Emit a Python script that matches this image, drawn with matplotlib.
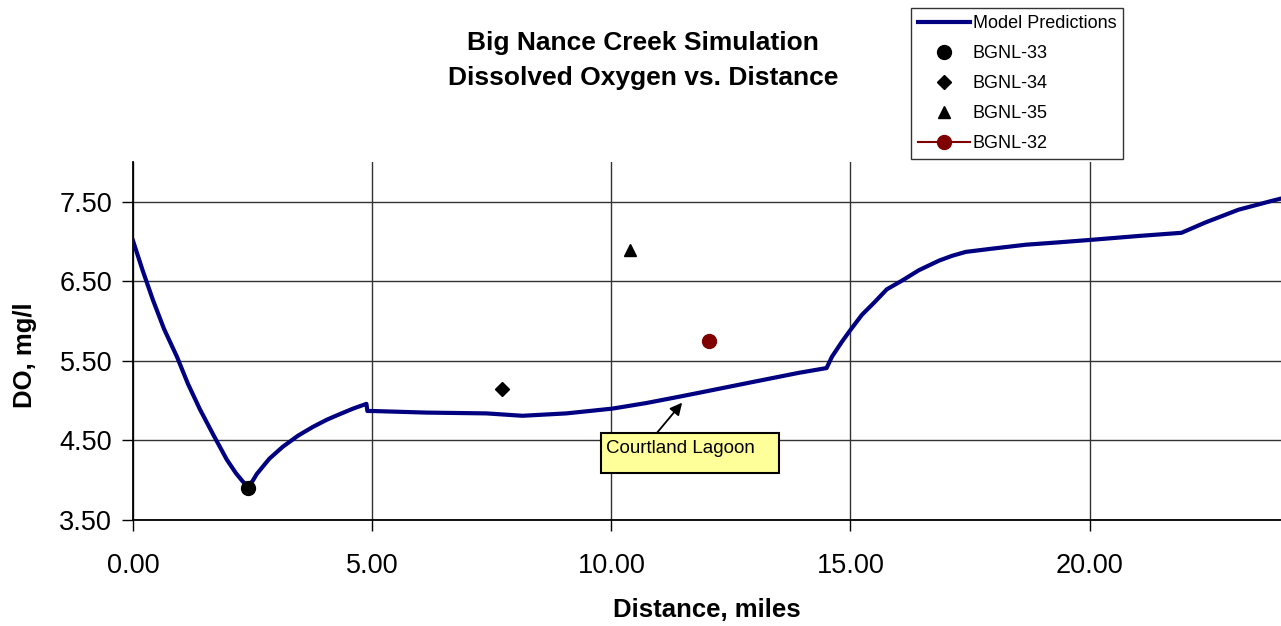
import matplotlib
matplotlib.use('Agg')
import matplotlib.pyplot as plt
from matplotlib.patches import Rectangle

plt.rcParams['font.family'] = ['Liberation Sans', 'DejaVu Sans']

# model predictions (distance in miles, DO in mg/l)
dist = [0.0, 0.20, 0.42, 0.65, 0.92, 1.15, 1.40, 1.68, 1.96, 2.15, 2.30, 2.40,
        2.50, 2.59, 2.85, 3.13, 3.45, 3.76, 4.05, 4.32, 4.60, 4.88,
        4.90, 5.01, 6.14, 7.39, 8.14, 9.06, 10.02, 10.73, 11.42, 11.84, 13.0,
        13.92, 14.50, 14.61, 14.82, 15.0, 15.24, 15.49, 15.76, 16.08, 16.43,
        16.85, 17.12, 17.41, 17.95, 18.66, 19.35, 20.0, 21.02, 21.92, 22.42,
        23.11, 23.80, 24.0]
do_model = [7.01, 6.64, 6.26, 5.90, 5.55, 5.21, 4.89, 4.57, 4.26, 4.09, 3.98, 3.93,
            3.99, 4.08, 4.27, 4.42, 4.56, 4.67, 4.76, 4.83, 4.90, 4.96,
            4.87, 4.87, 4.85, 4.84, 4.81, 4.84, 4.90, 4.97, 5.05, 5.10, 5.24,
            5.35, 5.41, 5.55, 5.74, 5.89, 6.08, 6.23, 6.40, 6.51, 6.64,
            6.76, 6.82, 6.87, 6.91, 6.96, 6.99, 7.02, 7.07, 7.11, 7.24,
            7.40, 7.51, 7.54]

# observed stations
obs_names = ['BGNL-33', 'BGNL-34', 'BGNL-35', 'BGNL-32']
obs_x = [2.40, 7.72, 10.40, 12.05]
obs_y = [3.90, 5.15, 6.90, 5.75]

xticks = [0, 5, 10, 15, 20]
yticks = [3.5, 4.5, 5.5, 6.5, 7.5]

fig = plt.figure(figsize=(12.81, 6.26), dpi=100)
ax = fig.add_axes([133/1281, 1 - 520/626, 1 - 133/1281, (520 - 162)/626])

ax.plot(dist, do_model, color='#000080', lw=3, label='Model Predictions',
        solid_joinstyle='round', zorder=3)
ax.plot(obs_x[0], obs_y[0], 'o', color='black', ms=10, ls='none', label=obs_names[0], zorder=4)
ax.plot(obs_x[1], obs_y[1], 'D', color='black', ms=7, ls='none', label=obs_names[1], zorder=4)
ax.plot(obs_x[2], obs_y[2], '^', color='black', ms=9, ls='none', label=obs_names[2], zorder=4)
ax.plot(obs_x[3], obs_y[3], 'o', color='#800000', ms=10, ls='-', lw=1.5, label=obs_names[3], zorder=4)

ax.set_xlim(0, 24)
ax.set_ylim(3.5, 8.0)
ax.set_xticks(xticks)
ax.set_yticks(yticks)
ax.set_xticklabels([f"{v:.2f}" for v in xticks])
ax.set_yticklabels([f"{v:.2f}" for v in yticks])
ax.tick_params(direction='out', length=8, width=1, labelsize=19.5)
ax.tick_params(axis='x', pad=16)
ax.tick_params(axis='y', pad=7)
ax.grid(True, color='#333333', lw=1)
ax.set_axisbelow(True)
for s in ['top', 'right']:
    ax.spines[s].set_visible(False)
for s in ['left', 'bottom']:
    ax.spines[s].set_color('black')
    ax.spines[s].set_linewidth(1.3)

# Courtland Lagoon callout
ax.add_patch(Rectangle((9.79, 4.09), 3.72, 0.50, fc='#FFFF99', ec='black', lw=1.5,
                       zorder=5, clip_on=False))
ax.text(9.89, 4.40, 'Courtland Lagoon', fontsize=13.5, va='center', ha='left', zorder=6)
ax.annotate('', xy=(11.48, 4.975), xytext=(10.96, 4.60),
            arrowprops=dict(arrowstyle='-|>', color='black', lw=1.3,
                            mutation_scale=18, shrinkA=0, shrinkB=0),
            zorder=5)

fig.text(643/1281, 1 - 43/626, 'Big Nance Creek Simulation', ha='center', va='center',
         fontsize=19, fontweight='bold')
fig.text(643/1281, 1 - 78/626, 'Dissolved Oxygen vs. Distance', ha='center', va='center',
         fontsize=19, fontweight='bold')
fig.text(25/1281, 1 - 355/626, 'DO, mg/l', rotation=90, ha='center', va='center',
         fontsize=18.5, fontweight='bold')
fig.text(707/1281, 1 - 610/626, 'Distance, miles', ha='center', va='center',
         fontsize=18.5, fontweight='bold')

leg = fig.legend(loc='upper left', bbox_to_anchor=(911/1281, 1 - 8/626),
                 fontsize=13, frameon=True, fancybox=False, edgecolor='black',
                 handlelength=2.9, handletextpad=0.15, labelspacing=0.72,
                 borderpad=0.38, borderaxespad=0)
leg.get_frame().set_linewidth(1)

fig.savefig('out.png', dpi=100)
